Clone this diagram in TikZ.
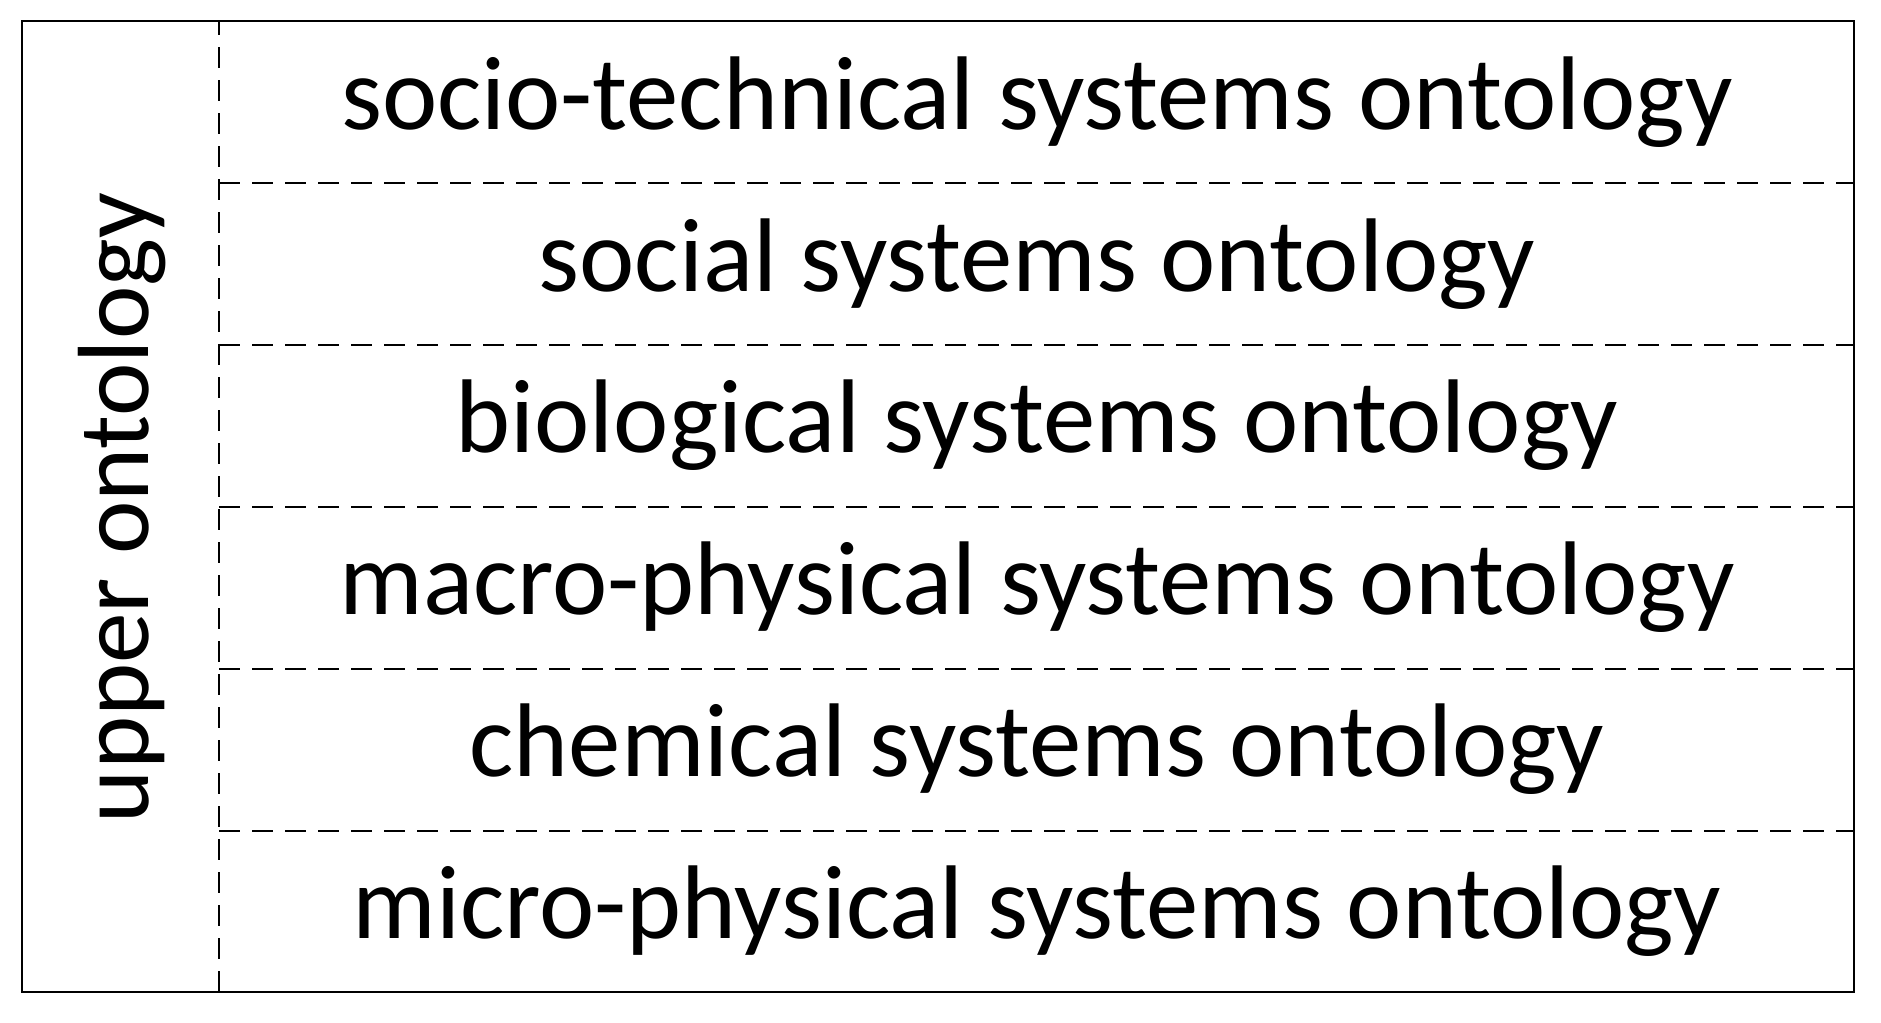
\documentclass[tikz,border=0pt]{standalone}
\usepackage{fontspec}
\setmainfont{Carlito}
\usetikzlibrary{calc}

\begin{document}
\begin{tikzpicture}
  \useasboundingbox (0,0) rectangle (18.81,10.23);
  \tikzset{
    layer/.style={font=\fontsize{29.8}{34}\selectfont, inner sep=0pt},
    split/.style={line width=0.5pt, dash pattern=on 0.21cm off 0.12cm}
  }

  \draw[line width=0.65pt] (0.22,0.31) rectangle (18.54,10.02);
  \draw[split] (2.19,0.31) -- (2.19,10.02);

  \foreach \y in {1.92,3.54,5.16,6.78,8.40} {
    \draw[split] (2.19,\y) -- (18.54,\y);
  }

  \foreach \name/\txt [count=\i] in {
      st/socio-technical systems ontology,
      so/social systems ontology,
      bi/biological systems ontology,
      ma/macro-physical systems ontology,
      ch/chemical systems ontology,
      mi/micro-physical systems ontology} {
    \node[layer] (\name) at (10.37, 10.02 - 1.618*\i + 0.809) {\txt};
  }

  \node[layer, font=\fontsize{28.8}{33}\selectfont, rotate=90] (upper) at (1.22,5.15) {upper ontology};
\end{tikzpicture}
\end{document}
